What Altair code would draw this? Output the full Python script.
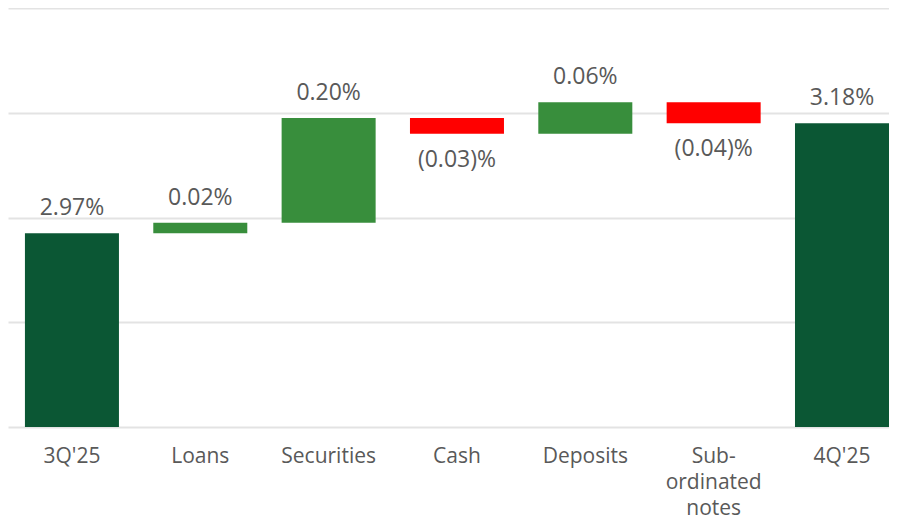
import altair as alt
import pandas as pd

categories = ["3Q'25", "Loans", "Securities", "Cash", "Deposits", "Sub-|ordinated|notes", "4Q'25"]
kinds = ["total", "delta", "delta", "delta", "delta", "delta", "total"]
values = [2.97, 0.02, 0.20, -0.03, 0.06, -0.04, 3.18]
labels = ["2.97%", "0.02%", "0.20%", "(0.03)%", "0.06%", "(0.04)%", "3.18%"]
grid_values = [2.6, 2.8, 3.0, 3.2, 3.4]

rows = []
running = 0.0
for c, k, v, l in zip(categories, kinds, values, labels):
    if k == "total":
        start, end = 0.0, v
        running = v
        kind = "total"
    else:
        start = running
        end = running + v
        running = end
        kind = "up" if v >= 0 else "down"
    rows.append(dict(category=c, low=min(start, end), high=max(start, end), label=l, kind=kind))
df = pd.DataFrame(rows)

FONT = "Open Sans"
TEXT = "#595959"

x_enc = alt.X(
    "category:N",
    sort=categories,
    scale=alt.Scale(paddingInner=0.2675, paddingOuter=0.066, align=1),
    axis=alt.Axis(
        title=None, labelAngle=0, labelExpr="split(datum.label, '|')",
        labelFont=FONT, labelFontSize=21, labelColor=TEXT, labelLineHeight=26,
        labelBaseline="alphabetic", labelPadding=35, ticks=False, tickSize=0, domain=False,
    ),
)
y_scale = alt.Scale(domain=[2.6, 3.4], nice=False, zero=False)

base = alt.Chart(df)

bars = base.mark_bar(clip=True).encode(
    x=x_enc,
    y=alt.Y("low:Q", scale=y_scale, axis=alt.Axis(
        values=grid_values, labels=False, ticks=False, domain=False, title=None,
        grid=True, gridColor="#E3E3E3", gridWidth=2)),
    y2="high:Q",
    color=alt.Color("kind:N", scale=alt.Scale(domain=["total", "up", "down"],
                                              range=["#0B5734", "#388E3C", "#FF0000"]), legend=None),
)

pos_text = base.transform_filter("datum.kind != 'down'").mark_text(
    dy=-18, baseline="alphabetic", fontSize=23, font=FONT, color=TEXT
).encode(x=alt.X("category:N", sort=categories), y=alt.Y("high:Q", scale=y_scale), text="label:N")

neg_text = base.transform_filter("datum.kind == 'down'").mark_text(
    dy=33, baseline="alphabetic", fontSize=23, font=FONT, color=TEXT
).encode(x=alt.X("category:N", sort=categories), y=alt.Y("low:Q", scale=y_scale), text="label:N")

chart = alt.layer(bars, pos_text, neg_text).properties(
    width=881, height=419,
    padding={"left": 0, "top": 0, "right": 0, "bottom": 92},
    autosize=alt.AutoSizeParams(type="none"),
).configure_view(stroke=None)

chart.save("out.html", embed_options={"renderer": "svg", "actions": False})
